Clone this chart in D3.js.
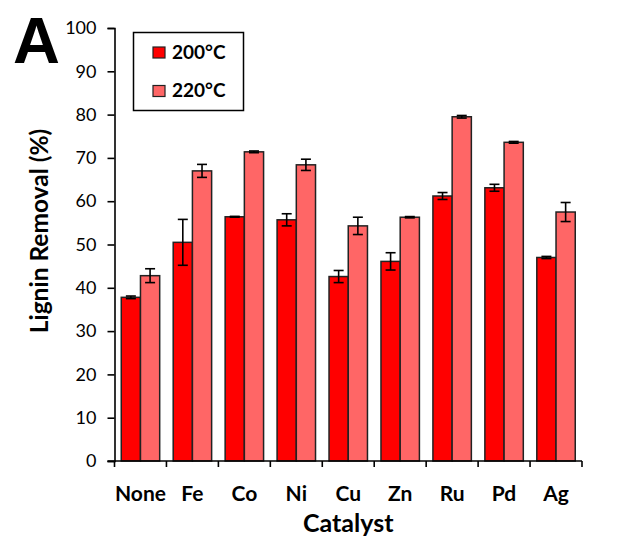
<!DOCTYPE html>
<html lang="en">
<head>
    <meta charset="UTF-8">
    <title>Lignin Removal</title>
    <script src="https://d3js.org/d3.v7.min.js"></script>
    <style>
        body { margin: 0; background: #fff; }
        text { font-family: Lato, "Open Sans", sans-serif; fill: #000; }
    </style>
</head>
<body>
<svg width="618" height="542"></svg>
<script>

    const catalysts = ["None", "Fe", "Co", "Ni", "Cu", "Zn", "Ru", "Pd", "Ag"];
    const series = ["200°C", "220°C"];
    const colors = ["#ff0000", "#ff6666"];
    const val200 = [37.8, 50.5, 56.4, 55.7, 42.6, 46.1, 61.2, 63.1, 47.0];
    const err200 = [0.3, 5.3, 0.1, 1.4, 1.4, 2.0, 0.8, 0.8, 0.25];
    const val220 = [42.8, 67.0, 71.4, 68.4, 54.3, 56.3, 79.5, 73.6, 57.5];
    const err220 = [1.6, 1.5, 0.2, 1.3, 2.0, 0.15, 0.3, 0.2, 2.2];
    const yTicks = [0, 10, 20, 30, 40, 50, 60, 70, 80, 90, 100];

    const mLeft = 114.5, mRight = 582, mTop = 28, mBottom = 461;

    const svg = d3.select("svg");

    const x = d3.scaleBand().domain(catalysts).range([mLeft, mRight])
        .paddingInner(0.26).paddingOuter(0.13);
    const xs = d3.scaleBand().domain(series).range([0, x.bandwidth()]);
    const y = d3.scaleLinear().domain([0, 100]).range([mBottom, mTop]);

    const rows = catalysts.map((c, i) => ({
        cat: c,
        vals: [
            {s: series[0], v: val200[i], e: err200[i], c: colors[0]},
            {s: series[1], v: val220[i], e: err220[i], c: colors[1]}
        ]
    }));

    // bars
    const g = svg.append("g").selectAll("g").data(rows).join("g")
        .attr("transform", d => `translate(${x(d.cat)},0)`);

    g.selectAll("rect").data(d => d.vals).join("rect")
        .attr("x", d => xs(d.s))
        .attr("width", xs.bandwidth())
        .attr("y", d => y(d.v))
        .attr("height", d => mBottom - y(d.v))
        .attr("fill", d => d.c)
        .attr("stroke", "#222")
        .attr("stroke-width", 1.5);

    // error bars
    const eb = g.selectAll("g.err").data(d => d.vals).join("g").attr("class", "err")
        .attr("stroke", "#000").attr("stroke-width", 1.6);
    const cx = d => xs(d.s) + xs.bandwidth() / 2;
    eb.append("line")
        .attr("x1", cx).attr("x2", cx)
        .attr("y1", d => y(d.v + d.e)).attr("y2", d => y(d.v - d.e));
    eb.append("line")
        .attr("x1", d => cx(d) - 5).attr("x2", d => cx(d) + 5)
        .attr("y1", d => y(d.v + d.e)).attr("y2", d => y(d.v + d.e));
    eb.append("line")
        .attr("x1", d => cx(d) - 5).attr("x2", d => cx(d) + 5)
        .attr("y1", d => y(d.v - d.e)).attr("y2", d => y(d.v - d.e));

    // y axis
    const ya = svg.append("g")
        .attr("transform", `translate(${mLeft},0)`)
        .call(d3.axisLeft(y).tickValues(yTicks).tickSize(7).tickPadding(11));
    ya.select(".domain").attr("stroke", "#000").attr("stroke-width", 1.6);
    ya.selectAll(".tick line").attr("stroke", "#000").attr("stroke-width", 1.6);
    ya.selectAll(".tick text").attr("font-size", 18).attr("font-family", "Lato").attr("fill", "#111");

    // x axis
    const xa = svg.append("g").attr("transform", `translate(0,${mBottom})`);
    xa.append("line").attr("x1", mLeft - 7).attr("x2", mRight)
        .attr("stroke", "#000").attr("stroke-width", 1.6);
    const bounds = catalysts.map(c => x(c) - x.step() * x.paddingInner() / 2);
    bounds.push(mRight);
    bounds[0] = mLeft;
    xa.selectAll("line.tk").data(bounds).join("line").attr("class", "tk")
        .attr("x1", d => d).attr("x2", d => d).attr("y1", 0).attr("y2", 6)
        .attr("stroke", "#000").attr("stroke-width", 1.6);
    xa.selectAll("text").data(catalysts).join("text")
        .attr("x", d => x(d) + x.bandwidth() / 2)
        .attr("y", 40)
        .attr("text-anchor", "middle")
        .attr("font-size", 21).attr("font-weight", "bold")
        .text(d => d);

    svg.append("text")
        .attr("x", (mLeft + mRight) / 2).attr("y", 532)
        .attr("text-anchor", "middle")
        .attr("font-size", 25).attr("font-weight", "bold")
        .text("Catalyst");

    svg.append("text")
        .attr("transform", `translate(48,${231}) rotate(-90)`)
        .attr("text-anchor", "middle")
        .attr("font-size", 24.5).attr("font-weight", "bold")
        .text("Lignin Removal (%)");

    // panel letter
    svg.append("text")
        .attr("x", 13).attr("y", 63)
        .style("font-family", "'Liberation Sans', Arial, sans-serif")
        .attr("font-size", 65).attr("font-weight", "bold")
        .text("A");

    // legend
    const lg = svg.append("g");
    lg.append("rect").attr("x", 133.5).attr("y", 32.5).attr("width", 110).attr("height", 78)
        .attr("fill", "#fff").attr("stroke", "#000").attr("stroke-width", 1.5);
    const li = lg.selectAll("g.li").data(series).join("g").attr("class", "li")
        .attr("transform", (d, i) => `translate(153,${47 + i * 38.5})`);
    li.append("rect").attr("width", 12).attr("height", 11)
        .attr("fill", (d, i) => colors[i]).attr("stroke", "#222").attr("stroke-width", 1.2);
    li.append("text").attr("x", 19).attr("y", 11.5)
        .attr("font-size", 19).attr("font-weight", "bold")
        .text(d => d);

</script>
</body>
</html>
